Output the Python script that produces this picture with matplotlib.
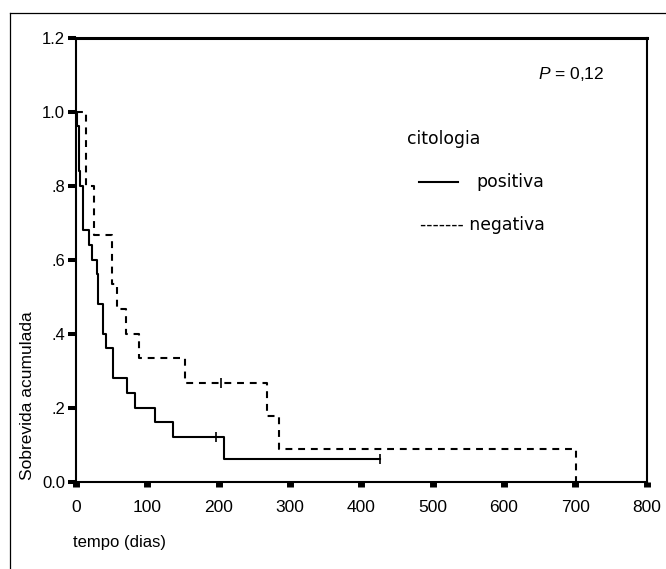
import matplotlib

matplotlib.use("Agg")
import matplotlib.pyplot as plt
from matplotlib.lines import Line2D

plt.rcParams["font.family"] = ["Liberation Sans", "DejaVu Sans"]
plt.rcParams["mathtext.fontset"] = "custom"
plt.rcParams["mathtext.it"] = "Liberation Sans:italic"
plt.rcParams["mathtext.rm"] = "Liberation Sans"

# Kaplan-Meier steps (time in days, cumulative survival)
pos_t = [0, 2, 4, 6, 10, 18, 22, 29, 31, 38, 42, 52, 72, 83, 111, 136, 207, 426]
pos_s = [1.0, 0.96, 0.84, 0.80, 0.68, 0.64, 0.60, 0.56, 0.48, 0.40, 0.36, 0.28,
         0.24, 0.20, 0.16, 0.12, 0.06, 0.06]
pos_cens_t = [197, 426]
pos_cens_s = [0.12, 0.06]

neg_t = [0, 14, 25, 51, 58, 70, 88, 153, 268, 284, 701]
neg_s = [1.0, 0.80, 0.667, 0.533, 0.467, 0.40, 0.333, 0.267, 0.178, 0.089, 0.0]
neg_cens_t = [204]
neg_cens_s = [0.267]

x_ticks = [0, 100, 200, 300, 400, 500, 600, 700, 800]
y_ticks = [0.0, 0.2, 0.4, 0.6, 0.8, 1.0, 1.2]
y_labels = ["0.0", ".2", ".4", ".6", ".8", "1.0", "1.2"]

W, H = 666, 569
fig = plt.figure(figsize=(W / 100, H / 100), dpi=100)


def fx(px):
    return px / W


def fy(py):
    return 1 - py / H


ax = fig.add_axes([fx(76), fy(481.5), fx(646.5) - fx(76), fy(37.5) - fy(481.5)])

ax.step(pos_t, pos_s, where="post", color="black", lw=1.5)
ax.step(neg_t, neg_s, where="post", color="black", lw=1.5, linestyle=(0, (3.3, 2.8)))
ax.plot(pos_cens_t, pos_cens_s, ls="none", marker="|", ms=7, mew=1.2, color="black")
ax.plot(neg_cens_t, neg_cens_s, ls="none", marker="|", ms=7, mew=1.2, color="black")

ax.set_xlim(0, 800)
ax.set_ylim(0, 1.2)
ax.set_xticks(x_ticks)
ax.set_yticks(y_ticks)
ax.set_yticklabels(y_labels)
ax.tick_params(axis="y", direction="out", length=5.8, width=2.9, pad=2, labelsize=12)
ax.tick_params(axis="x", direction="out", length=3.6, width=5, pad=9.5, labelsize=12.5)
for side in ["left", "right", "bottom"]:
    ax.spines[side].set_linewidth(1.5)
ax.spines["top"].set_linewidth(2.2)

# axis titles
fig.text(fx(73), fy(546.7), "tempo (dias)", fontsize=12, ha="left", va="baseline")
fig.text(fx(28), fy(480), "Sobrevida acumulada", fontsize=12.5, rotation=90,
         ha="center", va="bottom")

# annotations and hand-made legend
fig.text(fx(538), fy(79), r"$P$ = 0,12", fontsize=12.5, ha="left", va="baseline")
fig.text(fx(406.7), fy(144), "citologia", fontsize=12.4, family="DejaVu Sans",
         ha="left", va="baseline")
fig.add_artist(Line2D([fx(419), fx(458)], [fy(181.5), fy(181.5)], color="black", lw=1.5))
fig.text(fx(476.7), fy(186.7), "positiva", fontsize=12.4, family="DejaVu Sans",
         ha="left", va="baseline")
fig.text(fx(420), fy(230), "------- negativa", fontsize=12.4, family="DejaVu Sans",
         ha="left", va="baseline")

# outer page frame
fig.add_artist(Line2D([fx(9.5), fx(9.5)], [0, fy(13)], color="black", lw=0.9))
fig.add_artist(Line2D([fx(9.5), 1], [fy(13), fy(13)], color="black", lw=0.9))

fig.savefig("out.png", dpi=100)
plt.close(fig)
